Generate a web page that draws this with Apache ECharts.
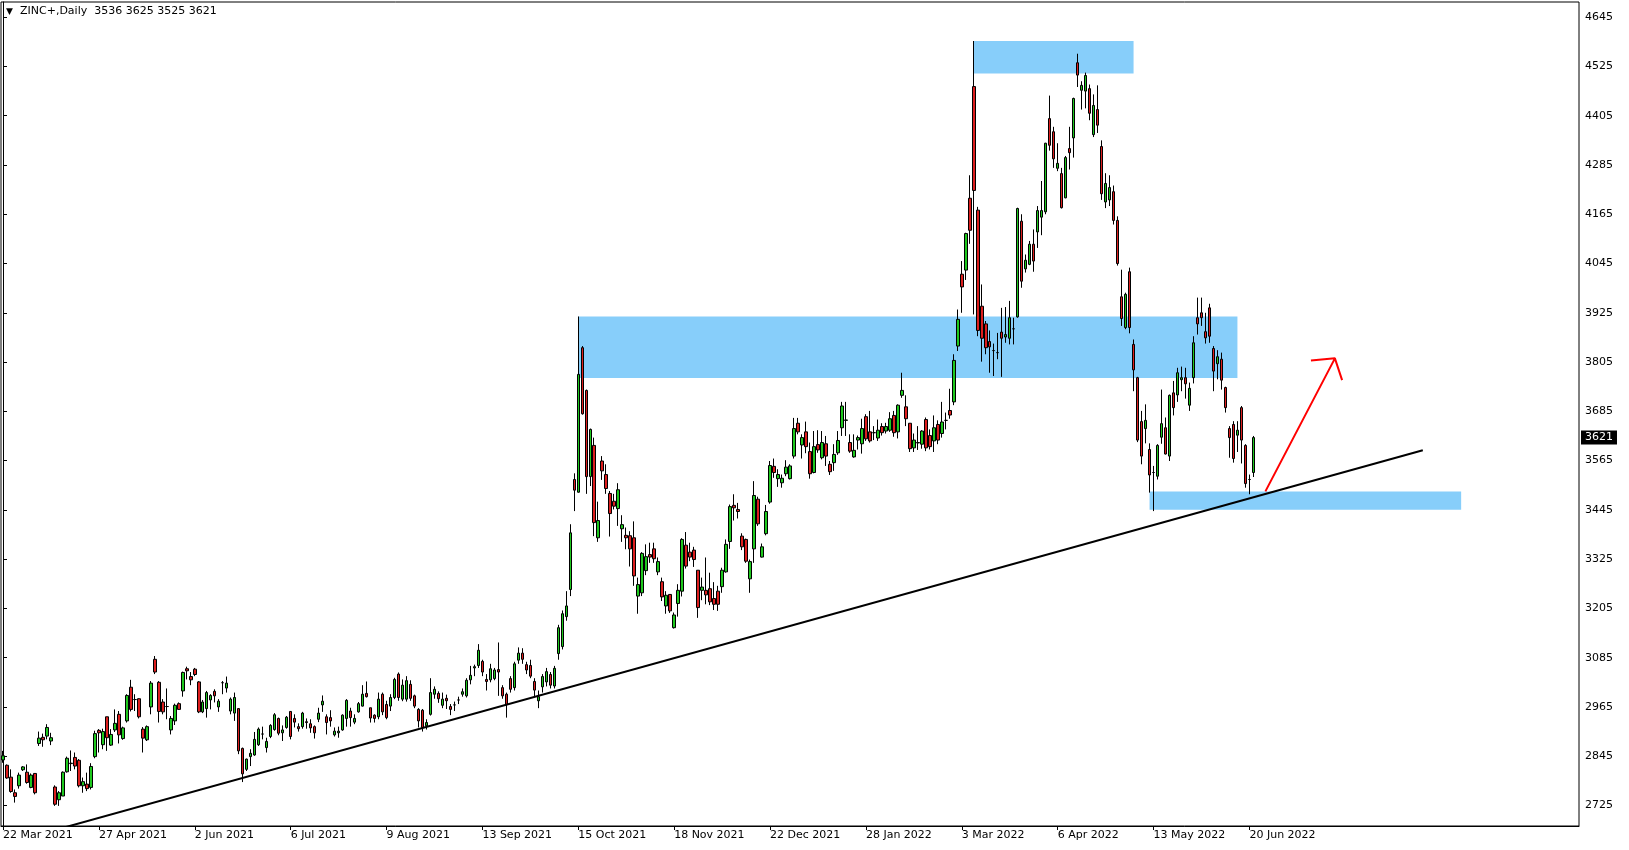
<!DOCTYPE html>
<html><head><meta charset="utf-8">
<script src="https://cdn.jsdelivr.net/npm/echarts@6/dist/echarts.min.js"></script>
<style>html,body{margin:0;padding:0;background:#fff}#c{width:1629px;height:850px}</style>
</head><body><div id="c"></div>
<script>
const symbolName = 'ZINC+,Daily';
const tickLabels = ['22 Mar 2021','27 Apr 2021','2 Jun 2021','6 Jul 2021','9 Aug 2021','13 Sep 2021','15 Oct 2021','18 Nov 2021','22 Dec 2021','28 Jan 2022','3 Mar 2022','6 Apr 2022','13 May 2022','20 Jun 2022'];
const tickEvery = 24;
const slotCount = 395;
const priceTicks = [2725,2845,2965,3085,3205,3325,3445,3565,3685,3805,3925,4045,4165,4285,4405,4525,4645];
// daily bars: [open, high, low, close]
const ohlc = [
[2836,2858,2829,2846],[2823,2825,2790,2792],[2794,2813,2756,2759],[2756,2764,2732,2747],[2773,2805,2766,2799],
[2812,2821,2809,2819],[2806,2825,2778,2781],[2769,2803,2767,2799],[2803,2804,2752,2756],[2876,2905,2870,2889],
[2891,2900,2868,2885],[2894,2923,2886,2915],[2882,2902,2872,2890],[2770,2774,2724,2728],[2739,2760,2724,2756],
[2748,2808,2748,2806],[2807,2844,2805,2840],[2827,2859,2809,2828],[2842,2854,2813,2821],[2835,2838,2769,2773],
[2773,2793,2756,2783],[2777,2805,2760,2766],[2769,2828,2764,2820],[2844,2907,2840,2900],[2908,2911,2854,2902],
[2873,2912,2862,2905],[2941,2941,2858,2890],[2872,2911,2870,2898],[2909,2959,2904,2925],[2947,2955,2876,2897],
[2888,2917,2885,2914],[2931,2996,2927,2993],[3013,3031,2954,2959],[2983,2996,2955,2983],[2985,2986,2937,2941],
[2911,2916,2854,2889],[2885,2920,2882,2917],[2965,3028,2947,3023],[3081,3089,3045,3050],[3025,3028,2927,2954],
[2977,2984,2947,2953],[2966,3010,2935,2966],[2909,2943,2898,2937],[2931,2973,2921,2969],[2973,2976,2958,2959],
[3004,3051,2990,3049],[3058,3063,3032,3053],[3039,3050,3018,3031],[3057,3060,3040,3044],[3026,3028,2950,2953],
[2953,2982,2950,2977],[2961,3004,2939,3000],[2982,2996,2959,2993],[3003,3008,2976,2992],[2965,2984,2953,2979],
[3024,3028,2996,3024],[3011,3039,3000,3023],[2955,2988,2947,2984],[2950,3000,2931,2988],[2961,2962,2850,2858],
[2864,2866,2782,2802],[2813,2839,2809,2838],[2844,2862,2821,2852],[2848,2904,2846,2886],[2873,2915,2870,2911],
[2899,2917,2886,2899],[2866,2890,2854,2881],[2893,2923,2889,2920],[2910,2950,2907,2946],[2937,2939,2896,2901],
[2902,2920,2882,2909],[2915,2943,2912,2940],[2954,2955,2886,2893],[2937,2947,2915,2928],[2917,2925,2905,2912],
[2917,2953,2912,2950],[2929,2937,2912,2927],[2924,2935,2902,2914],[2917,2920,2888,2902],[2935,2963,2928,2950],
[2970,2993,2953,2979],[2941,2947,2898,2927],[2939,2957,2917,2931],[2897,2915,2893,2906],[2902,2917,2890,2906],
[2909,2947,2907,2945],[2937,2984,2917,2981],[2955,2963,2917,2939],[2928,2947,2923,2937],[2953,2977,2951,2973],
[2967,3018,2966,2996],[2998,3027,2988,2990],[2963,2963,2927,2938],[2945,2947,2927,2937],[2941,3000,2935,2984],
[2996,3000,2945,2953],[2971,2980,2935,2939],[2967,2996,2955,2988],[2988,3036,2984,3032],[3045,3049,2980,2988],
[2984,3032,2979,3018],[2984,3040,2978,3029],[3020,3030,2980,2986],[2992,2995,2962,2967],[2959,2962,2915,2931],
[2957,2960,2905,2915],[2919,2935,2910,2927],[2947,3035,2944,3000],[2996,3015,2985,3008],[2998,3003,2975,2985],
[2969,3000,2962,2984],[2986,2995,2960,2980],[2966,2972,2945,2959],[2970,2978,2955,2970],[2982,2990,2972,2982],
[2996,3010,2990,3002],[2992,3035,2988,3030],[3031,3065,3020,3042],[3060,3068,3040,3063],[3066,3118,3060,3103],
[3076,3080,3040,3050],[3032,3045,3005,3027],[3031,3070,3025,3058],[3034,3060,3030,3055],[3056,3122,2992,3050],
[3012,3018,2985,2992],[2996,3000,2939,2971],[3034,3040,3000,3008],[3012,3075,3005,3070],[3079,3110,3070,3096],
[3096,3108,3070,3081],[3068,3075,3045,3055],[3066,3080,3035,3040],[3027,3035,2990,3006],[2980,3005,2962,2990],
[3014,3045,3000,3039],[3026,3060,3015,3051],[3044,3050,3010,3018],[3016,3065,3010,3059],[3095,3165,3080,3158],
[3112,3200,3105,3192],[3185,3247,3175,3211],[3251,3410,3235,3389],[3519,3534,3442,3493],[3488,3916,3487,3775],
[3840,3844,3677,3679],[3736,3738,3484,3526],[3526,3643,3503,3641],[3602,3621,3381,3414],[3377,3465,3367,3419],
[3564,3576,3518,3540],[3531,3556,3484,3497],[3485,3491,3380,3436],[3466,3484,3446,3454],[3448,3510,3406,3494],
[3399,3432,3367,3409],[3383,3402,3349,3377],[3382,3393,3307,3350],[3377,3417,3260,3284],[3235,3280,3192,3263],
[3243,3342,3235,3339],[3297,3361,3286,3331],[3336,3365,3316,3330],[3350,3365,3316,3326],[3294,3329,3286,3319],
[3270,3280,3223,3233],[3211,3247,3192,3237],[3239,3240,3194,3199],[3158,3195,3156,3189],[3217,3264,3185,3249],
[3247,3376,3234,3373],[3359,3391,3302,3308],[3342,3365,3320,3330],[3347,3355,3306,3324],[3298,3298,3182,3207],
[3249,3280,3225,3257],[3249,3329,3215,3238],[3253,3292,3213,3221],[3229,3269,3201,3215],[3247,3260,3199,3215],
[3258,3304,3243,3298],[3294,3373,3292,3361],[3368,3458,3350,3453],[3456,3483,3419,3450],[3446,3462,3424,3441],
[3381,3388,3347,3355],[3373,3375,3316,3320],[3277,3324,3243,3319],[3350,3515,3316,3480],[3471,3477,3406,3411],
[3330,3363,3329,3355],[3387,3457,3383,3441],[3464,3564,3460,3553],[3551,3570,3523,3536],[3521,3544,3501,3531],
[3511,3531,3499,3522],[3533,3566,3527,3549],[3521,3556,3519,3552],[3576,3669,3570,3643],[3656,3669,3629,3635],
[3603,3629,3570,3621],[3635,3660,3583,3599],[3587,3609,3521,3533],[3536,3637,3534,3599],[3604,3639,3584,3591],
[3572,3637,3568,3609],[3606,3625,3552,3576],[3556,3564,3530,3538],[3560,3605,3540,3580],[3584,3637,3579,3614],
[3645,3708,3625,3698],[3663,3708,3625,3664],[3609,3629,3584,3588],[3574,3629,3572,3590],[3615,3626,3592,3621],
[3606,3667,3582,3643],[3672,3678,3613,3618],[3635,3686,3609,3613],[3633,3649,3615,3633],[3620,3665,3613,3639],
[3648,3656,3626,3633],[3637,3657,3631,3648],[3639,3683,3635,3667],[3675,3686,3623,3633],[3635,3702,3619,3700],
[3724,3779,3718,3736],[3696,3724,3649,3667],[3656,3656,3586,3594],[3596,3631,3586,3615],[3609,3649,3591,3608],
[3605,3639,3594,3637],[3665,3670,3588,3596],[3626,3641,3592,3599],[3613,3675,3586,3645],[3653,3663,3605,3615],
[3631,3708,3621,3659],[3663,3682,3641,3663],[3687,3740,3667,3676],[3708,3824,3700,3809],[3844,3933,3832,3909],
[4019,4051,3925,3988],[4029,4120,4005,4118],[4204,4260,4093,4126],[4476,4587,3921,4223],[4175,4183,3868,3882],
[3941,3994,3806,3863],[3898,3905,3824,3840],[3855,3882,3779,3842],[3833,3850,3771,3833],[3828,3876,3812,3828],
[3878,3937,3769,3863],[3866,3939,3852,3872],[3863,3954,3848,3913],[3886,3913,3848,3886],[3915,4181,3913,4179],
[4148,4165,3986,4002],[4032,4067,4023,4053],[4043,4100,4041,4092],[4092,4128,4025,4051],[4122,4185,4083,4174],
[4158,4246,4114,4174],[4171,4339,4165,4338],[4398,4454,4320,4333],[4366,4378,4278,4300],[4277,4338,4270,4289],
[4264,4278,4179,4181],[4205,4307,4204,4303],[4325,4378,4274,4315],[4351,4449,4303,4447],[4534,4556,4475,4504],
[4467,4489,4420,4479],[4465,4510,4423,4503],[4471,4481,4394,4411],[4359,4457,4353,4430],[4420,4479,4363,4382],
[4330,4345,4200,4215],[4195,4265,4180,4240],[4200,4260,4185,4230],[4220,4235,4140,4150],[4150,4160,4040,4045],
[3964,4030,3893,3911],[3889,3974,3885,3970],[4025,4035,3875,3889],[3848,3860,3734,3786],[3767,3769,3610,3615],
[3660,3686,3556,3576],[3643,3702,3607,3663],[3592,3607,3487,3530],[3536,3552,3442,3536],[3527,3605,3519,3602],
[3622,3738,3606,3655],[3645,3670,3580,3581],[3576,3726,3564,3724],[3730,3759,3675,3694],[3725,3791,3708,3779],
[3762,3794,3734,3767],[3767,3791,3716,3752],[3700,3755,3686,3741],[3767,3868,3753,3852],[3913,3962,3872,3898],
[3925,3962,3893,3913],[3879,3925,3850,3864],[3937,3947,3852,3868],[3838,3844,3734,3783],[3801,3834,3763,3818],
[3812,3828,3738,3761],[3743,3745,3682,3694],[3643,3649,3572,3621],[3653,3661,3560,3570],[3627,3661,3586,3639],
[3694,3698,3558,3615],[3602,3605,3499,3509],[3519,3531,3483,3519],[3536,3625,3525,3621]
];
// rectangles: [fromBar, topPrice, toBar, bottomPrice]
const zones = [[243,4587,283,4508],[144,3916,309,3766],[287,3490,365,3445]];
const trendLine = [[0,2630],[355.4,3590]];
const arrowPath = [[316,3490],[333.4,3814],[327.4,3809],[333.4,3814],[335.2,3761]];

const FONT = 'DejaVu Sans';
const categories = Array.from({length: slotCount}, (_, i) => String(i));
const candleData = ohlc.map(r => [r[0], r[3], r[2], r[1]]);
const last = ohlc[ohlc.length - 1];
const showTick = (idx) => idx % tickEvery === 0 && idx / tickEvery < tickLabels.length;

const chart = echarts.init(document.getElementById('c'), null, {renderer: 'canvas'});
chart.setOption({
  animation: false,
  backgroundColor: '#ffffff',
  graphic: [{
    type: 'text', left: 6, top: 7, silent: true, z: 10,
    style: {text: '\u25BC', fontFamily: FONT, fontSize: 9, fill: '#000'}
  }, {
    type: 'text', left: 20, top: 6, silent: true, z: 10,
    style: {text: symbolName + '  ' + last.join(' '), fontFamily: FONT, fontSize: 11, fill: '#000'}
  }],
  grid: {left: 1, right: 50, top: 2, bottom: 24, show: true, borderColor: '#000', borderWidth: 1, backgroundColor: 'transparent'},
  xAxis: [{
    type: 'category', data: categories, boundaryGap: true,
    axisLine: {show: true, lineStyle: {color: '#000', width: 1}},
    axisTick: {show: true, alignWithLabel: true, length: 4, interval: (i) => showTick(i), lineStyle: {color: '#000'}},
    axisLabel: {interval: (i) => showTick(i), formatter: (v, i) => tickLabels[Math.round(i / tickEvery)] || '',
      align: 'left', margin: 4, fontFamily: FONT, fontSize: 11, color: '#000'},
    splitLine: {show: false}
  }, {
    type: 'value', min: -0.5, max: slotCount - 0.5, show: false
  }],
  yAxis: {
    type: 'value', position: 'right', min: 2675, max: 4682, scale: true,
    axisLine: {show: true, lineStyle: {color: '#000', width: 1}},
    axisTick: {show: true, length: 4, customValues: priceTicks, lineStyle: {color: '#000'}},
    axisLabel: {customValues: priceTicks, formatter: (v) => String(v), margin: 6, fontFamily: FONT, fontSize: 11, color: '#000'},
    splitLine: {show: false}
  },
  series: [{
    type: 'line', xAxisIndex: 1, data: [], showSymbol: false, silent: true, z: 1,
    markArea: {
      silent: true,
      label: {show: false},
      itemStyle: {color: '#87CEFA', opacity: 1, borderWidth: 0},
      data: zones.map(z => [{coord: [z[0], z[1]]}, {coord: [z[2], z[3]]}])
    }
  }, {
    type: 'candlestick', xAxisIndex: 0, data: candleData, z: 2, barWidth: 3,
    itemStyle: {color: '#1ec81e', color0: '#dc1e1e', borderColor: '#000', borderColor0: '#000', borderWidth: 1}
  }, {
    type: 'line', xAxisIndex: 1, data: trendLine, showSymbol: false, silent: true, z: 3,
    lineStyle: {color: '#000', width: 2}
  }, {
    type: 'line', xAxisIndex: 1, data: arrowPath, showSymbol: false, silent: true, z: 3,
    lineStyle: {color: '#ff0000', width: 2}
  }]
});
// current-price tag on the price scale, placed through the chart's own y scale
const tagY = chart.convertToPixel({yAxisIndex: 0}, last[3]);
const gridRight = chart.convertToPixel({xAxisIndex: 1}, slotCount - 0.5);
chart.setOption({graphic: [{}, {}, {
  type: 'text', x: gridRight + 2, y: tagY, silent: true, z: 10,
  style: {text: String(last[3]), fontFamily: FONT, fontSize: 11, fill: '#fff', backgroundColor: '#000',
    padding: [2, 4, 1, 4], verticalAlign: 'middle', align: 'left'}
}]});
</script></body></html>
